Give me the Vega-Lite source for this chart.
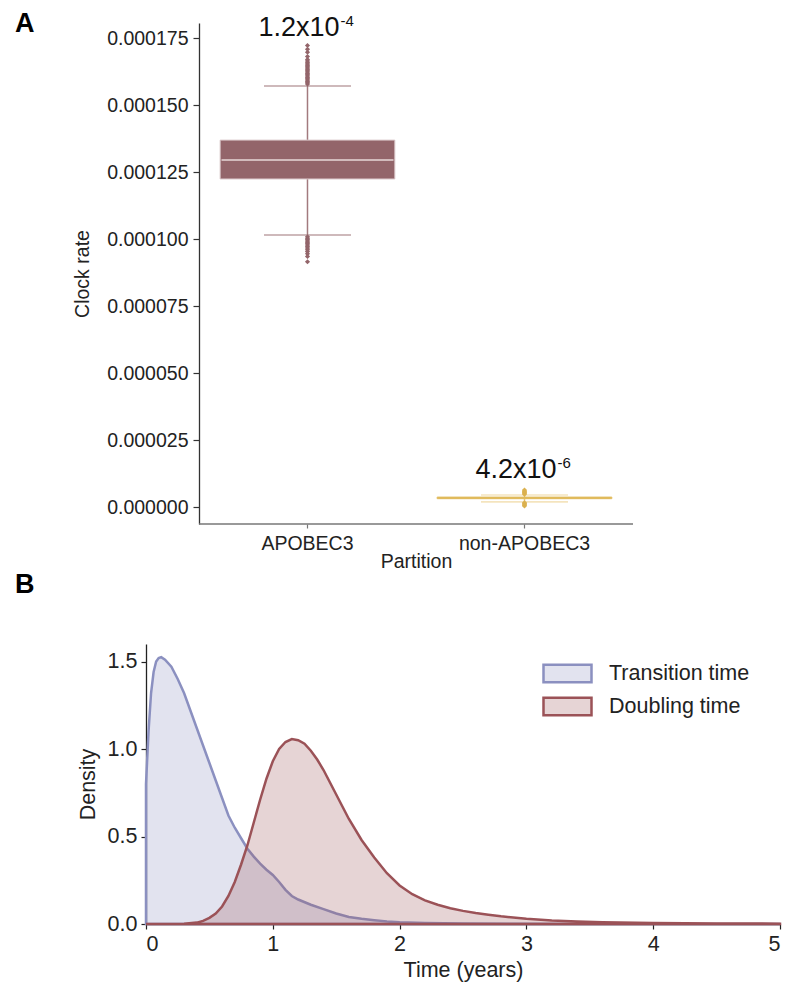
{
  "$schema": "https://vega.github.io/schema/vega-lite/v6.json",
  "padding": {"left": 15, "top": 10, "right": 2, "bottom": 2},
  "columns": 1,
  "align": "none",
  "spacing": 0,
  "resolve": {"scale": {"fill": "independent", "stroke": "independent"}, "legend": {"fill": "independent", "stroke": "independent"}},
  "config": {
    "font": "Liberation Sans",
    "view": {"stroke": null},
    "axis": {"grid": false, "labelColor": "#222", "titleColor": "#222", "titleFontWeight": "normal", "domainColor": "#333", "tickColor": "#333", "domainWidth": 1.3, "tickWidth": 1.2}
  },
  "datasets": {
    "stats": [
      {"partition": "APOBEC3", "lower": 0.0001015, "q1": 0.0001224, "median": 0.0001295, "q3": 0.0001369, "upper": 0.0001571},
      {"partition": "non-APOBEC3", "lower": 0.0000019, "q1": 0.0000031, "median": 0.0000034, "q3": 0.0000037, "upper": 0.0000045}
    ],
    "baseline": [
      {"from": "APOBEC3", "to": "non-APOBEC3", "v": -0.00000634}
    ],
    "outliers": [
      {"partition": "APOBEC3", "v": 0.0001578}, {"partition": "APOBEC3", "v": 0.0001583}, {"partition": "APOBEC3", "v": 0.0001588},
      {"partition": "APOBEC3", "v": 0.0001593}, {"partition": "APOBEC3", "v": 0.0001598}, {"partition": "APOBEC3", "v": 0.0001603},
      {"partition": "APOBEC3", "v": 0.0001608}, {"partition": "APOBEC3", "v": 0.0001613}, {"partition": "APOBEC3", "v": 0.0001618},
      {"partition": "APOBEC3", "v": 0.0001623}, {"partition": "APOBEC3", "v": 0.0001628}, {"partition": "APOBEC3", "v": 0.0001633},
      {"partition": "APOBEC3", "v": 0.0001638}, {"partition": "APOBEC3", "v": 0.0001643}, {"partition": "APOBEC3", "v": 0.0001648},
      {"partition": "APOBEC3", "v": 0.0001653}, {"partition": "APOBEC3", "v": 0.0001658}, {"partition": "APOBEC3", "v": 0.0001664},
      {"partition": "APOBEC3", "v": 0.000167}, {"partition": "APOBEC3", "v": 0.0001681}, {"partition": "APOBEC3", "v": 0.0001697},
      {"partition": "APOBEC3", "v": 0.0001708}, {"partition": "APOBEC3", "v": 0.0001722},
      {"partition": "APOBEC3", "v": 0.0001008}, {"partition": "APOBEC3", "v": 0.0001003}, {"partition": "APOBEC3", "v": 0.0000998},
      {"partition": "APOBEC3", "v": 0.0000993}, {"partition": "APOBEC3", "v": 0.0000988}, {"partition": "APOBEC3", "v": 0.0000983},
      {"partition": "APOBEC3", "v": 0.0000978}, {"partition": "APOBEC3", "v": 0.0000972}, {"partition": "APOBEC3", "v": 0.0000966},
      {"partition": "APOBEC3", "v": 0.000096}, {"partition": "APOBEC3", "v": 0.0000953}, {"partition": "APOBEC3", "v": 0.0000945},
      {"partition": "APOBEC3", "v": 0.0000935}, {"partition": "APOBEC3", "v": 0.0000915},
      {"partition": "non-APOBEC3", "v": 0.0000004}, {"partition": "non-APOBEC3", "v": 0.0000007}, {"partition": "non-APOBEC3", "v": 0.000001},
      {"partition": "non-APOBEC3", "v": 0.0000013}, {"partition": "non-APOBEC3", "v": 0.0000016}, {"partition": "non-APOBEC3", "v": 0.0000048},
      {"partition": "non-APOBEC3", "v": 0.0000051}, {"partition": "non-APOBEC3", "v": 0.0000054}, {"partition": "non-APOBEC3", "v": 0.0000057},
      {"partition": "non-APOBEC3", "v": 0.000006}, {"partition": "non-APOBEC3", "v": 0.0000063}
    ],
    "labels": [
      {"partition": "APOBEC3", "y": 0.0001757, "base": "1.2x10", "exp": "-4"},
      {"partition": "non-APOBEC3", "y": 0.0000108, "base": "4.2x10", "exp": "-6"}
    ],
    "density": [
      {"series": "Transition time", "t": 0, "d": 0.8},
      {"series": "Transition time", "t": 0.02, "d": 1.1},
      {"series": "Transition time", "t": 0.04, "d": 1.32},
      {"series": "Transition time", "t": 0.06, "d": 1.44},
      {"series": "Transition time", "t": 0.08, "d": 1.5},
      {"series": "Transition time", "t": 0.1, "d": 1.52},
      {"series": "Transition time", "t": 0.12, "d": 1.525},
      {"series": "Transition time", "t": 0.15, "d": 1.51},
      {"series": "Transition time", "t": 0.2, "d": 1.47},
      {"series": "Transition time", "t": 0.25, "d": 1.4},
      {"series": "Transition time", "t": 0.3, "d": 1.32},
      {"series": "Transition time", "t": 0.35, "d": 1.22},
      {"series": "Transition time", "t": 0.4, "d": 1.12},
      {"series": "Transition time", "t": 0.45, "d": 1.02},
      {"series": "Transition time", "t": 0.5, "d": 0.92},
      {"series": "Transition time", "t": 0.55, "d": 0.82},
      {"series": "Transition time", "t": 0.6, "d": 0.72},
      {"series": "Transition time", "t": 0.65, "d": 0.62},
      {"series": "Transition time", "t": 0.7, "d": 0.55},
      {"series": "Transition time", "t": 0.75, "d": 0.49},
      {"series": "Transition time", "t": 0.8, "d": 0.43},
      {"series": "Transition time", "t": 0.85, "d": 0.385},
      {"series": "Transition time", "t": 0.9, "d": 0.345},
      {"series": "Transition time", "t": 0.95, "d": 0.31},
      {"series": "Transition time", "t": 1.0, "d": 0.28},
      {"series": "Transition time", "t": 1.05, "d": 0.24},
      {"series": "Transition time", "t": 1.1, "d": 0.195},
      {"series": "Transition time", "t": 1.15, "d": 0.16},
      {"series": "Transition time", "t": 1.2, "d": 0.14},
      {"series": "Transition time", "t": 1.3, "d": 0.11},
      {"series": "Transition time", "t": 1.4, "d": 0.085},
      {"series": "Transition time", "t": 1.5, "d": 0.06},
      {"series": "Transition time", "t": 1.6, "d": 0.04},
      {"series": "Transition time", "t": 1.7, "d": 0.03},
      {"series": "Transition time", "t": 1.8, "d": 0.022},
      {"series": "Transition time", "t": 1.9, "d": 0.015},
      {"series": "Transition time", "t": 2.0, "d": 0.01},
      {"series": "Transition time", "t": 2.2, "d": 0.006},
      {"series": "Transition time", "t": 2.5, "d": 0.003},
      {"series": "Transition time", "t": 3.0, "d": 0.001},
      {"series": "Transition time", "t": 3.5, "d": 0},
      {"series": "Transition time", "t": 5.0, "d": 0},
      {"series": "Doubling time", "t": 0, "d": 0},
      {"series": "Doubling time", "t": 0.2, "d": 0},
      {"series": "Doubling time", "t": 0.3, "d": 0.002},
      {"series": "Doubling time", "t": 0.4, "d": 0.008},
      {"series": "Doubling time", "t": 0.45, "d": 0.018},
      {"series": "Doubling time", "t": 0.5, "d": 0.035},
      {"series": "Doubling time", "t": 0.55, "d": 0.06},
      {"series": "Doubling time", "t": 0.6, "d": 0.1},
      {"series": "Doubling time", "t": 0.65, "d": 0.16},
      {"series": "Doubling time", "t": 0.7, "d": 0.24},
      {"series": "Doubling time", "t": 0.75, "d": 0.34},
      {"series": "Doubling time", "t": 0.8, "d": 0.45},
      {"series": "Doubling time", "t": 0.85, "d": 0.58},
      {"series": "Doubling time", "t": 0.9, "d": 0.71},
      {"series": "Doubling time", "t": 0.95, "d": 0.83},
      {"series": "Doubling time", "t": 1.0, "d": 0.93},
      {"series": "Doubling time", "t": 1.05, "d": 1.0},
      {"series": "Doubling time", "t": 1.1, "d": 1.04},
      {"series": "Doubling time", "t": 1.15, "d": 1.057},
      {"series": "Doubling time", "t": 1.2, "d": 1.05},
      {"series": "Doubling time", "t": 1.25, "d": 1.03},
      {"series": "Doubling time", "t": 1.3, "d": 0.99},
      {"series": "Doubling time", "t": 1.35, "d": 0.94},
      {"series": "Doubling time", "t": 1.4, "d": 0.88},
      {"series": "Doubling time", "t": 1.45, "d": 0.81},
      {"series": "Doubling time", "t": 1.5, "d": 0.74},
      {"series": "Doubling time", "t": 1.55, "d": 0.67},
      {"series": "Doubling time", "t": 1.6, "d": 0.6},
      {"series": "Doubling time", "t": 1.7, "d": 0.48},
      {"series": "Doubling time", "t": 1.8, "d": 0.38},
      {"series": "Doubling time", "t": 1.9, "d": 0.29},
      {"series": "Doubling time", "t": 2.0, "d": 0.22},
      {"series": "Doubling time", "t": 2.1, "d": 0.17},
      {"series": "Doubling time", "t": 2.2, "d": 0.135},
      {"series": "Doubling time", "t": 2.3, "d": 0.11},
      {"series": "Doubling time", "t": 2.4, "d": 0.09},
      {"series": "Doubling time", "t": 2.5, "d": 0.075},
      {"series": "Doubling time", "t": 2.6, "d": 0.063},
      {"series": "Doubling time", "t": 2.7, "d": 0.053},
      {"series": "Doubling time", "t": 2.8, "d": 0.044},
      {"series": "Doubling time", "t": 3.0, "d": 0.03},
      {"series": "Doubling time", "t": 3.2, "d": 0.02},
      {"series": "Doubling time", "t": 3.4, "d": 0.014},
      {"series": "Doubling time", "t": 3.6, "d": 0.01},
      {"series": "Doubling time", "t": 4.0, "d": 0.006},
      {"series": "Doubling time", "t": 4.5, "d": 0.003},
      {"series": "Doubling time", "t": 5.0, "d": 0.002}
    ]
  },
  "concat": [
    {
      "title": {"text": "A", "anchor": "start", "frame": "group", "fontSize": 27, "fontWeight": "bold", "color": "#000", "baseline": "alphabetic", "dx": -131, "offset": -45},
      "width": 487,
      "height": 501,
      "encoding": {
        "x": {
          "field": "partition", "type": "nominal", "title": "Partition",
          "scale": {"type": "band", "domain": ["APOBEC3", "non-APOBEC3"], "paddingInner": 0, "paddingOuter": 0.1221, "align": 1},
          "axis": {"labelAngle": 0, "labelFontSize": 19.5, "titleFontSize": 19.5, "tickSize": 4, "labelPadding": 6, "titlePadding": 0, "titleX": 270, "domain": false, "tickColor": "#777"}
        }
      },
      "layer": [
        {
          "data": {"name": "baseline"},
          "mark": {"type": "rule", "strokeWidth": 1.3, "color": "#777"},
          "encoding": {
            "x": {"field": "from", "type": "nominal", "bandPosition": 0},
            "x2": {"field": "to", "bandPosition": 1},
            "y": {"field": "v", "type": "quantitative"}
          }
        },
        {
          "data": {"name": "stats"},
          "mark": {"type": "rule", "strokeWidth": 1.5},
          "encoding": {
            "y": {
              "field": "lower", "type": "quantitative", "title": "Clock rate",
              "scale": {"domain": [-0.00000634, 0.0001806], "nice": false, "zero": false},
              "axis": {"values": [0, 0.000025, 0.00005, 0.000075, 0.0001, 0.000125, 0.00015, 0.000175], "format": ".6f", "labelFontSize": 19.5, "titleFontSize": 19.5, "tickSize": 6, "labelPadding": 5, "titlePadding": 14, "offset": -53}
            },
            "y2": {"field": "upper"},
            "color": {"condition": {"test": "datum.partition === 'APOBEC3'", "value": "#a27a7e"}, "value": "#e6c676"}
          }
        },
        {
          "data": {"name": "stats"},
          "mark": {"type": "tick", "size": 87, "thickness": 1.6},
          "encoding": {
            "y": {"field": "upper", "type": "quantitative"},
            "color": {"condition": {"test": "datum.partition === 'APOBEC3'", "value": "#a27a7e"}, "value": "#efd9a3"}
          }
        },
        {
          "data": {"name": "stats"},
          "mark": {"type": "tick", "size": 87, "thickness": 1.6},
          "encoding": {
            "y": {"field": "lower", "type": "quantitative"},
            "color": {"condition": {"test": "datum.partition === 'APOBEC3'", "value": "#a27a7e"}, "value": "#efd9a3"}
          }
        },
        {
          "data": {"name": "stats"},
          "mark": {"type": "bar", "width": {"band": 0.805}, "strokeWidth": 1},
          "encoding": {
            "y": {"field": "q1", "type": "quantitative"},
            "y2": {"field": "q3"},
            "fill": {"condition": {"test": "datum.partition === 'APOBEC3'", "value": "#93656a"}, "value": "#e0b95a"},
            "stroke": {"condition": {"test": "datum.partition === 'APOBEC3'", "value": "#d9c6c8"}, "value": "#e3be64"}
          }
        },
        {
          "data": {"name": "stats"},
          "mark": {"type": "tick", "size": 172, "thickness": 2},
          "encoding": {
            "y": {"field": "median", "type": "quantitative"},
            "color": {"condition": {"test": "datum.partition === 'APOBEC3'", "value": "#ecdfe0"}, "value": "#e0b95a"}
          }
        },
        {
          "data": {"name": "outliers"},
          "mark": {"type": "point", "shape": "diamond", "filled": true, "size": 26, "opacity": 1},
          "encoding": {
            "y": {"field": "v", "type": "quantitative"},
            "color": {"condition": {"test": "datum.partition === 'APOBEC3'", "value": "#93656a"}, "value": "#dbb14f"}
          }
        },
        {
          "data": {"name": "labels"},
          "mark": {"type": "text", "fontSize": 27, "align": "right", "baseline": "alphabetic", "dx": 32, "color": "#111"},
          "encoding": {
            "y": {"field": "y", "type": "quantitative"},
            "text": {"field": "base"}
          }
        },
        {
          "data": {"name": "labels"},
          "mark": {"type": "text", "fontSize": 15, "align": "left", "baseline": "alphabetic", "dx": 33, "dy": -10, "color": "#111"},
          "encoding": {
            "y": {"field": "y", "type": "quantitative"},
            "text": {"field": "exp"}
          }
        }
      ]
    },
    {
      "title": {"text": "B", "anchor": "start", "frame": "group", "fontSize": 27, "fontWeight": "bold", "color": "#000", "baseline": "alphabetic", "dx": -131, "offset": 24},
      "width": 634,
      "height": 280,
      "data": {"name": "density"},
      "mark": {"type": "area", "fillOpacity": 0.25, "strokeWidth": 2.5, "strokeOpacity": 1},
      "encoding": {
        "x": {
          "field": "t", "type": "quantitative", "title": "Time (years)",
          "scale": {"domain": [0, 5], "nice": false},
          "axis": {"values": [0, 1, 2, 3, 4, 5], "format": "d", "labelFontSize": 21.5, "titleFontSize": 21.5, "tickSize": 5, "labelPadding": 4, "titlePadding": 5, "domainColor": "#222", "tickColor": "#222"}
        },
        "y": {
          "field": "d", "type": "quantitative", "title": "Density", "stack": null,
          "scale": {"domain": [0, 1.6], "nice": false},
          "axis": {"values": [0, 0.5, 1, 1.5], "format": ".1f", "labelFontSize": 21.5, "titleFontSize": 21.5, "tickSize": 5, "labelPadding": 4, "titlePadding": 8, "domainColor": "#222", "tickColor": "#222"}
        },
        "fill": {
          "field": "series", "type": "nominal",
          "scale": {"domain": ["Transition time", "Doubling time"], "range": ["#8b90c0", "#9b5257"]},
          "legend": {
            "title": null, "orient": "none", "legendX": 408, "legendY": 16, "padding": 0,
            "symbolType": "M-2,-0.72H2V0.72H-2Z", "symbolSize": 576, "symbolStrokeWidth": 2.5,
            "labelFontSize": 21.5, "labelColor": "#222", "labelOffset": 28, "rowPadding": 4,
            "encode": {"symbols": {"update": {"fillOpacity": {"value": 0.25}, "strokeOpacity": {"value": 1}}}}
          }
        },
        "stroke": {
          "field": "series", "type": "nominal",
          "scale": {"domain": ["Transition time", "Doubling time"], "range": ["#8b90c0", "#9b5257"]},
          "legend": {
            "title": null, "orient": "none", "legendX": 408, "legendY": 16, "padding": 0,
            "symbolType": "M-2,-0.72H2V0.72H-2Z", "symbolSize": 576, "symbolStrokeWidth": 2.5,
            "labelFontSize": 21.5, "labelColor": "#222", "labelOffset": 28, "rowPadding": 4,
            "encode": {"symbols": {"update": {"fillOpacity": {"value": 0.25}, "strokeOpacity": {"value": 1}}}}
          }
        }
      }
    }
  ]
}
